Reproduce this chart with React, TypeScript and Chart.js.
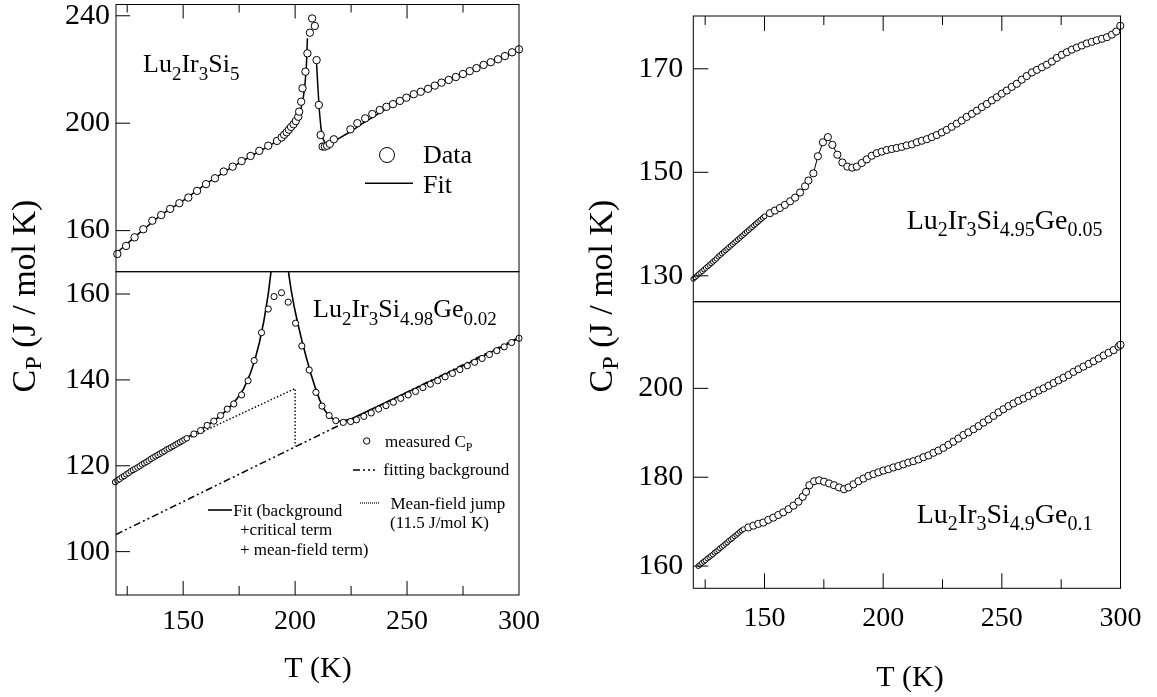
import React, { useEffect, useRef } from "react";
import { Chart, registerables } from "chart.js";
Chart.register(...registerables);

const W = 1157;
const H = 697;
const SERIF = '"Liberation Serif", "Times New Roman", Times, serif';

// ---------- axes ----------
const xTickLabels = [150, 200, 250, 300];
const xMajorTicks = [150, 200, 250];
const xMinorTicks = [125, 175, 225, 275];
const p1YTicks = [160, 200, 240];
const p2YTicks = [100, 120, 140, 160];
const p3YTicks = [130, 150, 170];
const p4YTicks = [160, 180, 200];

// ---------- panel 1 : Lu2Ir3Si5 ----------
const p1T = [120.6,124.5,128.3,132.2,136.2,140.2,144.2,148.3,152.3,156.2,160.2,164.2,168.1,172.1,176.1,180.1,184.0,188.0,191.9,194.0,195.1,196.2,197.2,198.2,199.3,200.3,201.4,201.8,202.7,203.3,204.6,205.5,206.6,207.6,208.8,209.6,210.6,211.4,212.3,213.3,214.3,215.5,217.3,224.7,227.8,231.3,234.5,237.8,240.8,243.7,246.8,249.7,253.0,256.1,259.4,262.4,265.4,268.6,271.8,275.0,278.0,281.0,284.2,287.4,290.6,293.7,296.9,300.0];
const p1C = [151.3,154.3,157.5,160.5,163.7,165.8,168.1,170.2,172.3,174.8,177.3,179.5,182.0,183.8,185.9,187.8,189.7,191.6,193.4,194.7,195.7,196.6,197.6,198.6,199.6,200.8,202.4,204.3,208.0,213.0,219.2,226.0,233.7,239.0,236.2,223.5,206.8,195.6,191.3,191.3,191.6,192.3,194.0,197.7,200.0,201.8,203.4,204.9,206.1,207.1,208.3,209.5,210.8,211.7,212.8,214.0,215.1,216.1,217.2,218.3,219.4,220.5,221.7,222.7,223.8,225.0,226.4,227.5];
const p1FitLowT = [120,130,140,150,160,170,180,186,190,193,196,198,200,201.5,202.5,203.5,204.3,205.0,205.5];
const p1FitLowC = [151.5,158.8,165.8,171.2,177.3,182.7,187.6,190.4,192.4,194.1,196.2,198.0,200.4,202.6,205.0,208.5,213.5,220.5,231.6];
const p1FitHighT = [209.6,210.2,210.8,211.5,212.3,213.5,215,217,220,225,230,240,250,260,270,280,290,300];
const p1FitHighC = [222.0,213.0,205.0,198.5,194.5,192.4,192.2,193.0,194.5,197.0,199.8,205.0,209.5,213.4,216.9,220.3,223.7,227.4];

// ---------- panel 2 : Lu2Ir3Si4.98Ge0.02 ----------
const p2DenseT = [119.6,120.6,121.6,122.6,123.6,124.6,125.6,126.6,127.6,128.6,129.6,130.6,131.6,132.6,133.6,134.6,135.6,136.6,137.6,138.6,139.6,140.6,141.6,142.6,143.6,144.6,145.6,146.6,147.6,148.6,149.6,150.6,151.6];
const p2DenseC = [116.2,116.6,116.9,117.3,117.6,118.0,118.3,118.7,119.0,119.3,119.6,119.9,120.3,120.6,120.9,121.2,121.6,121.9,122.2,122.5,122.8,123.1,123.4,123.8,124.0,124.3,124.6,124.9,125.2,125.5,125.8,126.1,126.4];
const p2T = [154.8,157.8,160.7,163.7,166.7,169.7,172.6,176.1,179.0,181.7,185.0,188.0,190.6,193.9,196.9,200.2,203.0,206.3,209.3,212.0,215.2,218.2,221.5,224.8,227.4,230.7,234.0,237.3,240.6,243.9,247.2,250.5,253.8,257.1,260.4,263.7,267.0,270.3,273.6,276.9,280.2,283.5,286.8,290.1,293.4,296.7,300.0];
const p2C = [127.4,128.2,129.4,130.4,131.7,133.2,134.4,136.5,139.8,144.5,151.0,156.5,159.4,160.3,158.1,153.2,147.9,142.3,137.1,133.9,131.7,130.5,130.1,130.3,130.7,131.5,132.3,133.2,134.0,134.8,135.7,136.5,137.3,138.2,139.0,139.8,140.7,141.5,142.4,143.3,144.1,145.0,145.9,146.8,147.7,148.7,149.7];
const p2FitLowT = [120,130,140,150,160,166,170,174,177,180,182,184,186,188,189.3,190];
const p2FitLowC = [116.3,119.8,123.0,126.0,129.1,131.4,133.2,135.6,137.9,141.5,144.6,148.6,153.6,160.0,165.5,168.5];
const p2FitHighT = [196.6,197.2,198.2,199.5,201,203,205,207,209,211,213,215,217,219,221,225,240,260,280,300];
const p2FitHighC = [168.0,164.5,161.0,157.3,153.6,149.2,145.2,141.5,138.2,135.3,133.1,131.7,130.9,130.5,130.4,130.9,134.6,139.6,144.5,149.7];
const p2BgT = [120, 300];
const p2BgC = [104.0, 149.9];
const p2JumpT = [150.8, 200.0, 200.0];
const p2JumpC = [126.0, 138.0, 124.6];

// ---------- panel 3 : Lu2Ir3Si4.95Ge0.05 ----------
const p3DenseT = [120.0,120.75,121.5,122.25,123.0,123.75,124.5,125.25,126.0,126.75,127.5,128.25,129.0,129.75,130.5,131.25,132.0,132.75,133.5,134.25,135.0,135.75,136.5,137.25,138.0,138.75,139.5,140.25,141.0,141.75,142.5,143.25,144.0,144.75,145.5,146.25,147.0,147.75,148.5,149.25,150.0];
const p3DenseC = [129.4,129.7,130.0,130.3,130.6,130.9,131.2,131.5,131.8,132.1,132.4,132.7,133.0,133.3,133.7,134.0,134.3,134.6,134.9,135.2,135.5,135.8,136.1,136.4,136.7,137.0,137.3,137.6,137.9,138.2,138.5,138.8,139.1,139.4,139.7,140.0,140.3,140.6,140.9,141.2,141.5];
const p3T = [152.3,154.4,156.5,158.6,160.8,162.9,165.0,167.1,168.5,170.6,172.5,174.6,176.7,178.6,180.7,182.8,184.9,187.0,188.9,191.0,193.1,195.2,197.3,199.4,201.5,203.6,205.7,207.8,209.9,212.1,214.2,216.3,218.4,220.5,222.6,224.7,226.8,228.9,231.0,233.1,235.2,237.4,239.5,241.6,243.7,245.8,247.9,250.0,252.1,254.2,256.3,258.4,260.5,262.7,264.8,266.9,269.0,271.1,273.2,275.3,277.4,279.5,281.6,283.7,285.8,287.9,290.0,292.2,294.3,296.4,298.2,299.9];
const p3C = [142.1,142.6,143.1,143.7,144.4,145.1,146.1,147.3,148.4,149.8,153.1,155.8,156.8,155.3,153.4,151.9,151.1,150.9,151.1,151.8,152.5,153.2,153.7,154.0,154.3,154.5,154.7,154.9,155.2,155.4,155.8,156.1,156.4,156.8,157.2,157.7,158.2,158.8,159.4,160.0,160.7,161.3,161.9,162.6,163.2,163.9,164.5,165.2,165.8,166.5,167.1,167.9,168.6,169.3,169.8,170.3,170.8,171.4,172.1,172.7,173.2,173.7,174.1,174.5,174.9,175.2,175.5,175.8,176.1,176.6,177.2,178.3];

// ---------- panel 4 : Lu2Ir3Si4.9Ge0.1 ----------
const p4DenseT = [122.1,122.9,123.6,124.4,125.1,125.9,126.7,127.4,128.2,128.9,129.7,130.5,131.2,132.0,132.7,133.5,134.3,135.0,135.8,136.5,137.3,138.1,138.8,139.6,140.3,141.1];
const p4DenseC = [160.0,160.3,160.7,161.0,161.3,161.7,162.0,162.3,162.6,163.0,163.3,163.6,164.0,164.3,164.6,165.0,165.3,165.7,166.0,166.3,166.7,167.0,167.3,167.7,168.0,168.3];
const p4T = [143.2,145.3,147.4,149.5,151.6,153.7,155.8,157.9,160.1,162.2,164.3,166.1,167.5,168.9,170.9,173.0,175.1,177.2,179.3,181.4,183.5,185.4,187.5,189.6,191.7,193.8,195.9,198.0,200.1,202.2,204.3,206.4,208.5,210.6,212.7,214.9,217.0,219.1,221.2,223.3,225.4,227.5,229.6,231.7,233.8,235.9,238.1,240.2,242.3,244.4,246.5,248.6,250.7,252.8,254.9,257.0,259.1,261.3,263.4,265.5,267.6,269.7,271.8,273.9,276.0,278.1,280.2,282.3,284.4,286.6,288.7,290.8,292.9,295.0,297.1,299.2,300.0];
const p4C = [168.7,169.1,169.5,169.8,170.4,170.9,171.5,172.1,172.8,173.6,174.5,175.6,176.7,178.2,179.1,179.3,179.0,178.6,178.2,177.7,177.3,177.7,178.4,179.1,179.7,180.3,180.7,181.1,181.5,181.8,182.2,182.5,182.9,183.3,183.6,184.0,184.5,184.9,185.5,186.0,186.6,187.3,188.0,188.7,189.5,190.1,190.8,191.5,192.3,193.0,193.8,194.6,195.3,196.0,196.6,197.2,197.7,198.3,198.9,199.5,200.0,200.6,201.2,201.8,202.4,203.0,203.7,204.3,204.9,205.5,206.1,206.7,207.4,208.0,208.6,209.4,209.8];

// ---------- helpers ----------
const pts = (t: number[], c: number[]) => t.map((x, i) => ({ x, y: c[i] }));

type Part = [string, number];
function setFont(ctx: CanvasRenderingContext2D, size: number) {
  ctx.font = `${size}px ${SERIF}`;
}
function richWidth(ctx: CanvasRenderingContext2D, parts: Part[], size: number, sub: number) {
  let w = 0;
  for (const [t, s] of parts) {
    setFont(ctx, s ? sub : size);
    w += ctx.measureText(t).width;
  }
  return w;
}
function drawRich(ctx: CanvasRenderingContext2D, parts: Part[], x: number, y: number, size: number, sub: number, dy: number) {
  ctx.textBaseline = "alphabetic";
  ctx.textAlign = "left";
  ctx.fillStyle = "#000";
  let cx = x;
  for (const [t, s] of parts) {
    setFont(ctx, s ? sub : size);
    ctx.fillText(t, cx, s ? y + dy : y);
    cx += ctx.measureText(t).width;
  }
}
function line(ctx: CanvasRenderingContext2D, x1: number, y1: number, x2: number, y2: number, lw: number, dash: number[]) {
  ctx.save();
  ctx.lineWidth = lw;
  ctx.setLineDash(dash);
  ctx.strokeStyle = "#000";
  ctx.beginPath();
  ctx.moveTo(x1, y1);
  ctx.lineTo(x2, y2);
  ctx.stroke();
  ctx.restore();
}
function circle(ctx: CanvasRenderingContext2D, x: number, y: number, r: number) {
  ctx.save();
  ctx.lineWidth = 1;
  ctx.setLineDash([]);
  ctx.strokeStyle = "#000";
  ctx.fillStyle = "#fff";
  ctx.beginPath();
  ctx.arc(x, y, r, 0, Math.PI * 2);
  ctx.fill();
  ctx.stroke();
  ctx.restore();
}

const CP_TITLE: Part[] = [["C", 0], ["P", 1], [" (J / mol K)", 0]];
function yTitle(ctx: CanvasRenderingContext2D, bx: number, cy: number) {
  ctx.save();
  ctx.translate(bx, cy);
  ctx.rotate(-Math.PI / 2);
  const w = richWidth(ctx, CP_TITLE, 34, 24);
  drawRich(ctx, CP_TITLE, -w / 2, 0, 34, 24, 6);
  ctx.restore();
}
function xTitle(ctx: CanvasRenderingContext2D, cx: number, by: number) {
  const parts: Part[] = [["T (K)", 0]];
  const w = richWidth(ctx, parts, 30, 20);
  drawRich(ctx, parts, cx - w / 2, by, 30, 20, 0);
}

const DASH_DOT2 = [7, 3, 2, 3, 2, 3];
const DOTTED = [1.5, 2];

type Area = { left: number; right: number; top: number; bottom: number };
type Panel = {
  area: Area;
  yMin: number;
  yMax: number;
  yTicks: number[];
  yPad: number;
  xLabels: boolean;
  xPad: number;
  tickTop: boolean;
  tickBottom: boolean;
  major: number;
  minor: number;
  datasets: any[];
  extra: (ctx: CanvasRenderingContext2D) => void;
};

const X_AXIS_H = 60;

function framePlugin(p: Panel) {
  return {
    id: "frame",
    afterDraw(chart: any) {
      const ctx: CanvasRenderingContext2D = chart.ctx;
      const a = chart.chartArea;
      const xs = chart.scales.x;
      const ys = chart.scales.y;
      ctx.save();
      ctx.strokeStyle = "#000";
      ctx.lineWidth = 1;
      ctx.setLineDash([]);
      ctx.strokeRect(a.left, a.top, a.right - a.left, a.bottom - a.top);
      ctx.beginPath();
      for (const v of p.yTicks) {
        const y = ys.getPixelForValue(v);
        ctx.moveTo(a.left, y);
        ctx.lineTo(a.left + p.major, y);
      }
      const tx = (vals: number[], len: number) => {
        for (const v of vals) {
          const x = xs.getPixelForValue(v);
          if (p.tickTop) {
            ctx.moveTo(x, a.top);
            ctx.lineTo(x, a.top + len);
          }
          if (p.tickBottom) {
            ctx.moveTo(x, a.bottom);
            ctx.lineTo(x, a.bottom - len);
          }
        }
      };
      tx(xMajorTicks, p.major);
      tx(xMinorTicks, p.minor);
      ctx.stroke();
      p.extra(ctx);
      ctx.restore();
    },
  };
}

function makeConfig(p: Panel): any {
  const a = p.area;
  return {
    type: "scatter",
    data: { datasets: p.datasets },
    options: {
      animation: false,
      responsive: false,
      devicePixelRatio: 1,
      events: [],
      layout: {
        autoPadding: false,
        padding: {
          left: 0,
          top: a.top,
          right: W - a.right,
          bottom: H - a.bottom - (p.xLabels ? X_AXIS_H : 0),
        },
      },
      plugins: { legend: { display: false }, tooltip: { enabled: false }, title: { display: false } },
      scales: {
        x: {
          type: "linear",
          min: 120,
          max: 300,
          display: p.xLabels,
          grid: { display: false, drawTicks: false },
          border: { display: false },
          ticks: { color: "#000", font: { family: SERIF, size: 28 }, padding: p.xPad, maxRotation: 0 },
          afterBuildTicks: (s: any) => {
            s.ticks = xTickLabels.map((v) => ({ value: v }));
          },
          afterFit: (s: any) => {
            s.height = p.xLabels ? X_AXIS_H : 0;
            s.paddingLeft = 0;
            s.paddingRight = 0;
          },
        },
        y: {
          type: "linear",
          position: "left",
          min: p.yMin,
          max: p.yMax,
          grid: { display: false, drawTicks: false },
          border: { display: false },
          ticks: { color: "#000", font: { family: SERIF, size: 30 }, padding: p.yPad },
          afterBuildTicks: (s: any) => {
            s.ticks = p.yTicks.map((v) => ({ value: v }));
          },
          afterFit: (s: any) => {
            s.width = a.left;
            s.paddingTop = 0;
            s.paddingBottom = 0;
          },
        },
      },
    },
    plugins: [framePlugin(p)],
  };
}

const circles = (data: any[], r: number | number[]) => ({
  data,
  showLine: false,
  pointStyle: "circle",
  pointRadius: r,
  pointBorderWidth: 1,
  pointBorderColor: "#000",
  pointBackgroundColor: "#fff",
  clip: false,
  order: 0,
});
const curve = (data: any[], lw: number, dash: number[], order: number) => ({
  data,
  showLine: true,
  pointRadius: 0,
  borderColor: "#000",
  borderWidth: lw,
  borderDash: dash,
  tension: 0,
  order,
});
const connected = (dense: any[], sparse: any[]) => ({
  data: [...dense, ...sparse],
  showLine: true,
  borderColor: "#000",
  borderWidth: 1,
  tension: 0,
  pointStyle: "circle",
  pointRadius: [...dense.map(() => 2.4), ...sparse.map(() => 3.6)],
  pointBorderWidth: 1,
  pointBorderColor: "#000",
  pointBackgroundColor: "#fff",
  clip: false,
});

const LU: Part[] = [["Lu", 0], ["2", 1], ["Ir", 0], ["3", 1]];

const panels: Panel[] = [
  {
    area: { left: 116, right: 519, top: 4.5, bottom: 271.7 },
    yMin: 144.7,
    yMax: 244.2,
    yTicks: p1YTicks,
    yPad: 6,
    xLabels: false,
    xPad: 0,
    tickTop: true,
    tickBottom: false,
    major: 14,
    minor: 8,
    datasets: [
      circles(pts(p1T, p1C), 3.7),
      curve(pts(p1FitLowT, p1FitLowC), 1.5, [], 1),
      curve(pts(p1FitHighT, p1FitHighC), 1.5, [], 1),
    ],
    extra: (ctx) => {
      drawRich(ctx, [...LU, ["Si", 0], ["5", 1]], 143, 72, 26, 19, 8);
      circle(ctx, 387, 155, 7.5);
      drawRich(ctx, [["Data", 0]], 423, 163, 26, 19, 0);
      line(ctx, 365, 183.3, 413, 183.3, 1.5, []);
      drawRich(ctx, [["Fit", 0]], 423, 192.5, 26, 19, 0);
      yTitle(ctx, 35, 296);
    },
  },
  {
    area: { left: 116, right: 519, top: 271.7, bottom: 595 },
    yMin: 89.9,
    yMax: 165.2,
    yTicks: p2YTicks,
    yPad: 6,
    xLabels: true,
    xPad: 10,
    tickTop: false,
    tickBottom: true,
    major: 14,
    minor: 9,
    datasets: [
      circles(pts(p2DenseT, p2DenseC), 2.8),
      circles(pts(p2T, p2C), 3.1),
      curve(pts(p2FitLowT, p2FitLowC), 1.6, [], 1),
      curve(pts(p2FitHighT, p2FitHighC), 1.6, [], 1),
      curve(pts(p2BgT, p2BgC), 1.5, DASH_DOT2, 2),
      curve(pts(p2JumpT, p2JumpC), 1.4, DOTTED, 2),
    ],
    extra: (ctx) => {
      drawRich(
        ctx,
        [...LU, ["Si", 0], ["4.98", 1], ["Ge", 0], ["0.02", 1]],
        313,
        317,
        26,
        19,
        8
      );
      circle(ctx, 366.7, 441, 3.2);
      drawRich(ctx, [["measured C", 0], ["P", 1]], 385, 447, 17, 12, 4);
      line(ctx, 353, 470, 375, 470, 1.5, DASH_DOT2);
      drawRich(ctx, [["fitting background", 0]], 383.3, 475, 17, 12, 0);
      line(ctx, 208, 510, 232, 510, 1.6, []);
      drawRich(ctx, [["Fit (background", 0]], 233.3, 515.5, 17, 12, 0);
      drawRich(ctx, [["+critical term", 0]], 240, 535, 17, 12, 0);
      drawRich(ctx, [["+ mean-field term)", 0]], 240, 555, 17, 12, 0);
      line(ctx, 360, 503, 380, 503, 1.2, [1, 1]);
      drawRich(ctx, [["Mean-field jump", 0]], 390.5, 508.5, 17, 12, 0);
      drawRich(ctx, [["(11.5 J/mol K)", 0]], 390, 528, 17, 12, 0);
      xTitle(ctx, 318, 677);
    },
  },
  {
    area: { left: 693.3, right: 1120.5, top: 16, bottom: 301.7 },
    yMin: 125,
    yMax: 180.2,
    yTicks: p3YTicks,
    yPad: 10,
    xLabels: false,
    xPad: 0,
    tickTop: true,
    tickBottom: false,
    major: 15,
    minor: 9,
    datasets: [connected(pts(p3DenseT, p3DenseC), pts(p3T, p3C))],
    extra: (ctx) => {
      drawRich(
        ctx,
        [...LU, ["Si", 0], ["4.95", 1], ["Ge", 0], ["0.05", 1]],
        906.7,
        229.3,
        28,
        20,
        7
      );
      yTitle(ctx, 612, 296);
    },
  },
  {
    area: { left: 693.3, right: 1120.5, top: 301.7, bottom: 588.3 },
    yMin: 155,
    yMax: 219.5,
    yTicks: p4YTicks,
    yPad: 10,
    xLabels: true,
    xPad: 14,
    tickTop: false,
    tickBottom: true,
    major: 15,
    minor: 9,
    datasets: [connected(pts(p4DenseT, p4DenseC), pts(p4T, p4C))],
    extra: (ctx) => {
      drawRich(
        ctx,
        [...LU, ["Si", 0], ["4.9", 1], ["Ge", 0], ["0.1", 1]],
        916.7,
        522.7,
        28,
        20,
        7
      );
      xTitle(ctx, 910, 686);
    },
  },
];

export default function App() {
  const refs = [useRef<HTMLCanvasElement>(null), useRef<HTMLCanvasElement>(null), useRef<HTMLCanvasElement>(null), useRef<HTMLCanvasElement>(null)];
  useEffect(() => {
    const charts = panels.map((p, i) => new Chart(refs[i].current as HTMLCanvasElement, makeConfig(p)));
    return () => charts.forEach((c) => c.destroy());
  }, []);
  return (
    <div style={{ position: "absolute", left: 0, top: 0, width: W, height: H, background: "#fff", overflow: "hidden" }}>
      {refs.map((r, i) => (
        <canvas key={i} ref={r} width={W} height={H} style={{ position: "absolute", left: 0, top: 0, width: W, height: H }} />
      ))}
    </div>
  );
}
